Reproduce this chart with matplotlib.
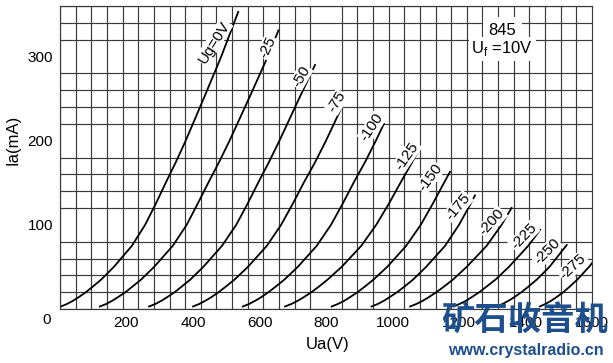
import numpy as np
import matplotlib
matplotlib.use("Agg")
import matplotlib.pyplot as plt

plt.rcParams['font.family'] = ['Liberation Sans', 'DejaVu Sans']

# grid voltages and the anode curves (Ua in V, Ia in mA)
grid_volts = ['Ug=0V', '-25', '-50', '-75', '-100', '-125', '-150', '-175', '-200', '-225', '-250', '-275']

ia_pts = [3, 6, 10, 14, 20, 27, 35, 50, 75, 100, 125, 150, 175, 200, 250, 300]

ua_0 = [3, 21, 40, 56, 78, 100, 124, 162, 216, 256, 288, 318, 349, 378, 432, 485, 536]
ia_0 = ia_pts + [353]
ua_25 = [120, 139, 158, 174, 197, 219, 244, 283, 339, 381, 414, 446, 479, 510, 568, 625, 657]
ia_25 = ia_pts + [331]
ua_50 = [268, 287, 306, 322, 345, 367, 392, 431, 487, 530, 564, 596, 629, 660, 719, 767]
ia_50 = ia_pts[:15] + [290]
ua_75 = [400, 419, 438, 455, 477, 500, 525, 565, 622, 665, 700, 733, 768, 800, 862]
ia_75 = ia_pts[:14] + [252]
ua_100 = [550, 569, 588, 605, 627, 650, 675, 715, 772, 815, 850, 883, 918, 950, 974]
ia_100 = ia_pts[:14] + [220]
ua_125 = [677, 696, 716, 733, 756, 780, 805, 847, 906, 951, 989, 1024, 1060, 1077]
ia_125 = ia_pts[:13] + [187]
ua_150 = [817, 836, 856, 872, 895, 918, 943, 984, 1041, 1085, 1121, 1155, 1173]
ia_150 = ia_pts[:12] + [163]
ua_175 = [937, 956, 975, 991, 1014, 1037, 1062, 1101, 1158, 1200, 1235, 1248]
ia_175 = ia_pts[:11] + [135]
ua_200 = [1053, 1072, 1092, 1109, 1132, 1156, 1182, 1223, 1283, 1328, 1358]
ia_200 = ia_pts[:10] + [120]
ua_225 = [1183, 1202, 1222, 1238, 1261, 1284, 1310, 1350, 1408, 1444]
ia_225 = ia_pts[:9] + [94]
ua_250 = [1313, 1331, 1350, 1366, 1388, 1410, 1434, 1472, 1524]
ia_250 = ia_pts[:8] + [76]
ua_275 = [1443, 1460, 1478, 1493, 1514, 1534, 1556, 1591, 1603]
ia_275 = ia_pts[:8] + [56]

curves = [(ua_0, ia_0), (ua_25, ia_25), (ua_50, ia_50), (ua_75, ia_75),
          (ua_100, ia_100), (ua_125, ia_125), (ua_150, ia_150), (ua_175, ia_175),
          (ua_200, ia_200), (ua_225, ia_225), (ua_250, ia_250), (ua_275, ia_275)]

# label anchor points (Ua, Ia) and text angle
label_ua = [463, 623, 725, 833, 938, 1044, 1113, 1197, 1299, 1395, 1465, 1543]
label_ia = [317, 311, 276, 246, 216, 182, 156, 121, 103, 86, 68, 50]
label_rot = [58, 64, 60, 58, 56, 55, 53, 50, 48, 46, 45, 43]

x_ticks = [200, 400, 600, 800, 1000, 1200, 1400, 1600]
y_ticks = [100, 200, 300]

fig = plt.figure(figsize=(6.13, 3.63), dpi=100)
ax = fig.add_axes([60 / 613, 54 / 363, 532 / 613, 303 / 363])
ax.set_xlim(0, 1600)
ax.set_ylim(0, 360)

# grid cells: 34 across, 18 up
ax.set_xticks(np.linspace(0, 1600, 35), minor=True)
ax.set_yticks(np.arange(0, 361, 20), minor=True)
ax.grid(which='minor', color='#3a3a3a', linewidth=0.85)
ax.set_xticks(x_ticks)
ax.set_yticks(y_ticks)
ax.tick_params(which='both', length=0)
ax.tick_params(axis='x', pad=5, labelsize=11)
ax.tick_params(axis='y', pad=5, labelsize=11)
for s in ax.spines.values():
    s.set_color('#3a3a3a')
    s.set_linewidth(0.85)

for ua, ia in curves:
    ax.plot(ua, ia, color='black', linewidth=1.3, solid_joinstyle='round')

for txt, x, y, r in zip(grid_volts, label_ua, label_ia, label_rot):
    ax.text(x, y, txt, rotation=r, fontsize=11, ha='center', va='center',
            bbox=dict(facecolor='white', edgecolor='none', pad=0.5))

fig.text(47 / 613, 1 - 320 / 363, '0', fontsize=11, ha='center', va='center')
fig.text(13 / 613, 1 - 140 / 363, 'Ia(mA)', fontsize=12, rotation=90, ha='center', va='center')
fig.text(328 / 613, 1 - 345 / 363, 'Ua(V)', fontsize=12, ha='center', va='center')

ax.text(1330, 331, '845', fontsize=12, ha='center', va='center',
        bbox=dict(facecolor='white', edgecolor='none', pad=4))
ax.text(1330, 309, r'U$_\mathregular{f}$ =10V', fontsize=12, ha='center', va='center',
        bbox=dict(facecolor='white', edgecolor='none', pad=2))

# site watermark
fig.text(525 / 613, 1 - 320 / 363, '矿石收音机', fontsize=24, fontweight='heavy',
         color='#1c4f8c', ha='center', va='center', family=['Noto Sans CJK SC', 'DejaVu Sans'])
fig.text(526 / 613, 1 - 350 / 363, 'www.crystalradio.cn', fontsize=11.5, fontweight='bold',
         color='#1c4f8c', ha='center', va='center')

fig.savefig('out.png', dpi=100)
